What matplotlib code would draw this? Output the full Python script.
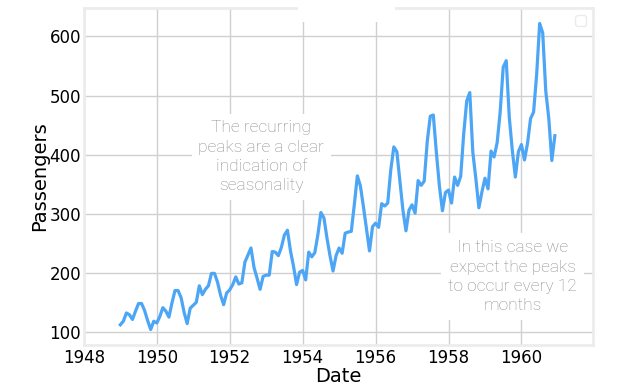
import matplotlib
matplotlib.use("Agg")
import matplotlib.pyplot as plt
import numpy as np
from matplotlib.patches import Rectangle

# monthly airline passengers (thousands), 1949-1960
years = list(range(1949, 1961))
passengers = [
    112, 118, 132, 129, 121, 135, 148, 148, 136, 119, 104, 118,
    115, 126, 141, 135, 125, 149, 170, 170, 158, 133, 114, 140,
    145, 150, 178, 163, 172, 178, 199, 199, 184, 162, 146, 166,
    171, 180, 193, 181, 183, 218, 230, 242, 209, 191, 172, 194,
    196, 196, 236, 235, 229, 243, 264, 272, 237, 211, 180, 201,
    204, 188, 235, 227, 234, 264, 302, 293, 259, 229, 203, 229,
    242, 233, 267, 269, 270, 315, 364, 347, 312, 274, 237, 278,
    284, 277, 317, 313, 318, 374, 413, 405, 355, 306, 271, 306,
    315, 301, 356, 348, 355, 422, 465, 467, 404, 347, 305, 336,
    340, 318, 362, 348, 363, 435, 491, 505, 404, 359, 310, 337,
    360, 342, 406, 396, 420, 472, 548, 559, 463, 407, 362, 405,
    417, 391, 419, 461, 472, 535, 622, 606, 508, 461, 390, 432,
]
xticks = [1948, 1950, 1952, 1954, 1956, 1958, 1960]
yticks = [100, 200, 300, 400, 500, 600]
note1 = "The recurring\npeaks are a clear\nindication of\nseasonality"
note2 = "In this case we\nexpect the peaks\nto occur every 12\nmonths"

dates = np.array([y + m / 12 for y in years for m in range(12)])

fig = plt.figure(figsize=(6.4, 3.87), dpi=100, facecolor="white")
ax = fig.add_axes([0.131, 0.109, 0.796, 0.870])

ax.plot(dates, passengers, color="#4da6f5", lw=2.3, zorder=3)

ax.set_xlim(1948, 1961.97)
ax.margins(y=0.05)
ax.set_xticks(xticks)
ax.set_yticks(yticks)
ax.grid(True, color="#d0d0d0", lw=1, zorder=0)
ax.tick_params(length=0, labelsize=12)
ax.tick_params(axis="x", pad=3)
ax.tick_params(axis="y", pad=2)
for s in ax.spines.values():
    s.set_color("#ececec")
    s.set_linewidth(2)
ax.set_xlabel("Date", fontsize=14, labelpad=0)
ax.set_ylabel("Passengers", fontsize=14, labelpad=0)

box = dict(boxstyle="square,pad=0.4", fc="white", ec="none")
txt = dict(ha="center", va="center", fontsize=12.5, color="#8c8c8c",
           family=["Roboto", "DejaVu Sans"], fontweight="light",
           linespacing=1.36, bbox=box, zorder=4)
ax.text(1952.87, 396, note1, **txt)
ax.text(1959.76, 193, note2, **txt)

# empty legend frame top right
leg = ax.legend(handles=[], loc="upper right", frameon=True)
leg.get_frame().set_edgecolor("#e6e6e6")

# white patch over top of the frame
fig.patches.append(Rectangle((298 / 640, 1 - 22 / 387), 97 / 640, 22 / 387,
                             transform=fig.transFigure, fc="white", ec="none",
                             zorder=10))

fig.savefig("out.png", dpi=100)
